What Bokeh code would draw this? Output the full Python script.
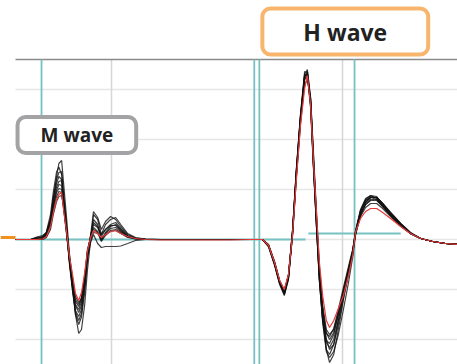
from bokeh.plotting import figure
from bokeh.models import Label, Range1d
from bokeh.embed import file_html
from bokeh.resources import INLINE

# time grid (ms) for the M-wave and H-wave parts of each sweep
t_m = [-0.8, 2.5, 3.8, 5.1, 5.9, 6.8, 7.4, 8.1, 8.6, 9.2, 9.7, 10.3, 10.9, 11.6, 12.2, 12.9, 13.5, 14.2, 14.8, 15.5,
       16.1, 17.0, 17.8, 18.7, 19.8, 20.9, 22.0, 23.5, 25.2, 27.4, 30.6, 37.1, 45.8]
t_h = [50.1, 52.7, 54.0, 55.3, 56.4, 57.4, 58.3, 59.2, 60.0, 60.9, 61.8, 62.4, 63.1, 63.7, 64.4, 65.0, 65.7, 66.5,
       67.2, 68.1, 69.1, 70.2, 71.3, 72.2, 72.8, 73.9, 75.0, 76.1, 77.4, 78.7, 80.4, 82.6, 84.7, 86.9, 89.5, 92.3, 94.9]

# individual sweeps (mV), M part
sweep1_m = [0, 0, 0.04, 0.06, 0.12, 0.40, 0.80, 1.25, 1.52, 1.58, 1.05, 0.40, -0.30, -0.95, -1.50, -1.88, -1.80, -1.30, -0.60, 0.00, 0.50, 0.40, 0.10, 0.30, 0.40, 0.44, 0.30, 0.12, 0.04, 0.01, 0, 0, 0]
sweep2_m = [0, 0, 0.02, 0.05, 0.15, 0.50, 0.95, 1.35, 1.45, 1.30, 0.75, 0.20, -0.45, -1.05, -1.50, -1.70, -1.55, -1.05, -0.40, 0.10, 0.56, 0.44, 0.20, 0.36, 0.46, 0.40, 0.26, 0.10, 0.03, 0.01, 0, 0, 0]
sweep3_m = [0, 0, 0.05, 0.08, 0.14, 0.42, 0.85, 1.20, 1.34, 1.36, 0.85, 0.25, -0.40, -1.00, -1.45, -1.62, -1.48, -0.95, -0.30, 0.10, 0.30, 0.24, 0.06, 0.20, 0.30, 0.34, 0.22, 0.08, 0.02, 0, 0, 0, 0]
sweep4_m = [0, 0, 0, 0.02, 0.10, 0.38, 0.78, 1.12, 1.26, 1.20, 0.70, 0.15, -0.50, -1.05, -1.42, -1.54, -1.40, -0.90, -0.30, 0.05, 0.40, 0.30, 0.00, 0.14, 0.26, 0.30, 0.20, 0.06, 0.02, 0, 0, 0, 0]
sweep5_m = [0, 0, 0.03, 0.05, 0.10, 0.35, 0.72, 1.05, 1.16, 1.18, 0.72, 0.20, -0.40, -0.95, -1.32, -1.46, -1.32, -0.85, -0.35, -0.05, 0.10, -0.08, -0.16, -0.14, -0.14, -0.14, -0.13, -0.08, -0.02, 0, 0, 0, 0]
sweep6_m = [0, 0, 0, 0.01, 0.08, 0.30, 0.66, 0.98, 1.10, 1.08, 0.66, 0.12, -0.45, -0.98, -1.30, -1.40, -1.25, -0.80, -0.25, 0.08, 0.24, 0.16, -0.02, 0.12, 0.22, 0.24, 0.16, 0.06, 0.02, 0, 0, 0, 0]
sweep7_m = [0, 0, 0.02, 0.04, 0.12, 0.34, 0.68, 0.94, 1.02, 1.00, 0.60, 0.10, -0.42, -0.92, -1.24, -1.34, -1.20, -0.76, -0.22, 0.06, 0.34, 0.26, 0.10, 0.20, 0.28, 0.28, 0.18, 0.06, 0.02, 0, 0, 0, 0]
sweep8_m = [0, 0, 0, 0.01, 0.06, 0.28, 0.60, 0.86, 0.96, 0.94, 0.56, 0.08, -0.40, -0.88, -1.20, -1.30, -1.16, -0.72, -0.20, 0.04, 0.20, 0.14, -0.04, 0.08, 0.18, 0.20, 0.14, 0.05, 0.01, 0, 0, 0, 0]
sweep9_m = [0, 0, 0, 0, 0.04, 0.20, 0.50, 0.76, 0.86, 0.88, 0.62, 0.18, -0.30, -0.80, -1.14, -1.26, -1.18, -0.80, -0.30, 0.00, 0.14, 0.12, 0.02, 0.10, 0.16, 0.18, 0.12, 0.04, 0.01, 0, 0, 0, 0]
average_m = [0, 0, 0, 0.01, 0.06, 0.26, 0.54, 0.80, 0.90, 0.94, 0.54, 0.14, -0.34, -0.72, -1.08, -1.22, -1.06, -0.66, -0.22, 0.04, 0.18, 0.12, 0.04, 0.10, 0.16, 0.18, 0.12, 0.06, 0.02, 0.0, -0.01, -0.01, -0.01]

# individual sweeps (mV), H part
sweep1_h = [0, 0, -0.14, -0.50, -0.88, -1.10, -0.78, 0.14, 1.30, 2.40, 3.30, 3.40, 2.80, 1.60, 0.30, -0.70, -1.50, -2.20, -2.46, -2.30, -1.80, -1.20, -0.70, -0.30, 0.14, 0.56, 0.78, 0.86, 0.84, 0.72, 0.54, 0.32, 0.14, 0.02, -0.04, -0.08, -0.10]
sweep2_h = [0, 0, -0.12, -0.48, -0.86, -1.08, -0.74, 0.20, 1.40, 2.50, 3.36, 3.34, 2.70, 1.50, 0.24, -0.78, -1.60, -2.20, -2.30, -2.10, -1.62, -1.10, -0.62, -0.24, 0.16, 0.60, 0.82, 0.88, 0.82, 0.68, 0.50, 0.30, 0.12, 0.02, -0.04, -0.08, -0.10]
sweep3_h = [0, 0, -0.14, -0.52, -0.90, -1.12, -0.80, 0.10, 1.24, 2.36, 3.24, 3.36, 2.84, 1.70, 0.40, -0.62, -1.40, -2.00, -2.20, -2.10, -1.70, -1.18, -0.66, -0.26, 0.12, 0.52, 0.74, 0.84, 0.84, 0.72, 0.52, 0.30, 0.12, 0.02, -0.04, -0.08, -0.10]
sweep4_h = [0, 0, -0.12, -0.48, -0.86, -1.06, -0.76, 0.16, 1.34, 2.44, 3.28, 3.30, 2.66, 1.48, 0.20, -0.80, -1.56, -2.02, -2.08, -1.90, -1.50, -1.02, -0.58, -0.22, 0.16, 0.58, 0.78, 0.84, 0.80, 0.66, 0.48, 0.28, 0.12, 0.02, -0.04, -0.08, -0.10]
sweep5_h = [0, 0, -0.12, -0.46, -0.84, -1.02, -0.70, 0.20, 1.38, 2.46, 3.20, 3.26, 2.74, 1.62, 0.36, -0.66, -1.40, -1.86, -2.00, -1.86, -1.48, -1.02, -0.60, -0.24, 0.12, 0.50, 0.70, 0.78, 0.78, 0.66, 0.48, 0.28, 0.12, 0.02, -0.04, -0.08, -0.10]
sweep6_h = [0, 0, -0.12, -0.48, -0.86, -1.06, -0.72, 0.18, 1.32, 2.40, 3.22, 3.30, 2.76, 1.56, 0.28, -0.74, -1.46, -1.88, -1.94, -1.78, -1.40, -0.96, -0.54, -0.20, 0.14, 0.46, 0.64, 0.72, 0.72, 0.62, 0.46, 0.26, 0.12, 0.02, -0.04, -0.08, -0.10]
sweep7_h = [0, 0, -0.10, -0.44, -0.82, -1.02, -0.74, 0.10, 1.22, 2.30, 3.12, 3.18, 2.82, 1.76, 0.50, -0.54, -1.30, -1.80, -1.90, -1.80, -1.48, -1.08, -0.66, -0.28, 0.10, 0.48, 0.70, 0.80, 0.80, 0.68, 0.50, 0.30, 0.12, 0.02, -0.04, -0.08, -0.10]
sweep8_h = [0, 0, -0.14, -0.50, -0.88, -1.08, -0.76, 0.14, 1.30, 2.42, 3.26, 3.32, 2.72, 1.52, 0.22, -0.82, -1.66, -2.24, -2.36, -2.24, -1.90, -1.40, -0.86, -0.36, 0.08, 0.50, 0.74, 0.84, 0.84, 0.72, 0.54, 0.32, 0.14, 0.02, -0.04, -0.08, -0.10]
sweep9_h = [0, 0, -0.12, -0.46, -0.84, -1.04, -0.72, 0.18, 1.36, 2.48, 3.30, 3.28, 2.62, 1.44, 0.18, -0.84, -1.62, -2.06, -2.16, -2.00, -1.60, -1.12, -0.66, -0.26, 0.14, 0.56, 0.80, 0.88, 0.86, 0.70, 0.52, 0.30, 0.12, 0.02, -0.04, -0.08, -0.10]
average_h = [0, 0, -0.12, -0.46, -0.82, -1.00, -0.70, 0.12, 1.18, 2.28, 3.02, 3.28, 2.68, 1.58, 0.48, -0.46, -1.12, -1.62, -1.76, -1.62, -1.38, -1.12, -0.72, -0.32, 0.14, 0.42, 0.56, 0.62, 0.62, 0.54, 0.42, 0.26, 0.12, 0.02, -0.04, -0.08, -0.10]

# cursors, grid and panel extents (ms / mV)
cursor_times = [4.85, 50.9, 52.0, 72.6]
baseline_span = [-0.8, 62.0]
baseline_level = 0.0
h_cursor_span = [62.6, 82.6]
h_cursor_level = 0.12
marker_span = [-4.03, -0.78]
marker_level = 0.04
grid_x = [20, 70]
grid_y = [-2, -1, 0, 1, 2, 3]
panel_x = [-0.78, 94.89]
panel_y = [-2.5, 3.6]

sweeps_m = [sweep1_m, sweep2_m, sweep3_m, sweep4_m, sweep5_m, sweep6_m, sweep7_m, sweep8_m, sweep9_m]
sweeps_h = [sweep1_h, sweep2_h, sweep3_h, sweep4_h, sweep5_h, sweep6_h, sweep7_h, sweep8_h, sweep9_h]

TEAL = "#76c2c2"

p = figure(width=457, height=364, x_range=Range1d(-4.03, 94.89), y_range=Range1d(-2.5, 4.78),
           output_backend="svg", toolbar_location=None, x_axis_location=None, y_axis_location=None,
           min_border=0)
p.outline_line_color = None
p.xgrid.visible = False
p.ygrid.visible = False
p.background_fill_color = "white"
p.border_fill_color = "white"

# grid
p.segment(x0=[panel_x[0]] * len(grid_y), x1=[panel_x[1]] * len(grid_y), y0=grid_y, y1=grid_y,
          line_color="#e6e6e6", line_width=1.5)
p.segment(x0=grid_x, x1=grid_x, y0=[panel_y[0]] * len(grid_x), y1=[panel_y[1]] * len(grid_x),
          line_color="#d6d6d6", line_width=1.5)
# top border
p.segment(x0=[panel_x[0]], x1=[panel_x[1]], y0=[panel_y[1]], y1=[panel_y[1]], line_color="#8a8a8a", line_width=1.5)
# orange level marker
p.segment(x0=[marker_span[0]], x1=[marker_span[1]], y0=[marker_level], y1=[marker_level],
          line_color="#f0901e", line_width=3)

# cursors
p.segment(x0=cursor_times, x1=cursor_times, y0=[panel_y[0]] * len(cursor_times), y1=[panel_y[1]] * len(cursor_times),
          line_color=TEAL, line_width=1.8)
p.line(baseline_span, [baseline_level, baseline_level], line_color=TEAL, line_width=1.8)
p.line(h_cursor_span, [h_cursor_level, h_cursor_level], line_color=TEAL, line_width=1.8)

xs = [t_m + t_h for _ in sweeps_m]
ys = [m + h for m, h in zip(sweeps_m, sweeps_h)]
p.multi_line(xs=xs, ys=ys, line_color="#111111", line_alpha=0.8, line_width=1.2)
p.line(t_m + t_h, average_m + average_h, line_color="#e83a3a", line_width=1.2)

p.add_layout(Label(x=12.5, y=2.09, text="M wave", text_align="center", text_baseline="middle",
                   text_font="Open Sans", text_font_style="bold", text_font_size="19px", text_color="#222222",
                   background_fill_color="white", border_line_color="#a3a3a6", border_line_width=4,
                   border_radius=8, padding=dict(left=23, right=23, top=5, bottom=5)))
p.add_layout(Label(x=70.6, y=4.16, text="H wave", text_align="center", text_baseline="middle",
                   text_font="Open Sans", text_font_style="bold", text_font_size="23px", text_color="#222222",
                   background_fill_color="white", border_line_color="#f8b56e", border_line_width=4,
                   border_radius=8, padding=dict(left=41, right=41, top=7, bottom=7)))

open("out.html", "w").write(file_html(p, INLINE))
